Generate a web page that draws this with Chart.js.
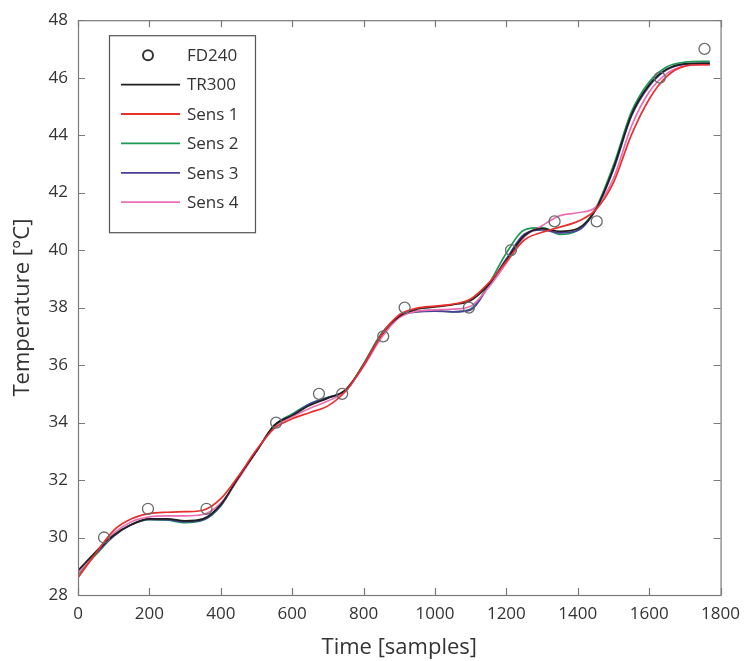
<!DOCTYPE html>
<html>
<head>
<meta charset="utf-8">
<script src="https://cdn.jsdelivr.net/npm/chart.js@4/dist/chart.umd.min.js"></script>
<style>
html,body{margin:0;padding:0;background:#fff;}
#wrap{width:749px;height:661px;position:relative;}
</style>
</head>
<body>
<div id="wrap"><canvas id="c" width="749" height="661"></canvas></div>
<script>
// ---- data ----
const fdX = [73, 196, 360, 555, 675, 740, 855, 915, 1095, 1213, 1335, 1453, 1630, 1755];
const fdY = [30, 31, 31, 34, 35, 35, 37, 38, 38, 40, 41, 41, 46, 47];

const sampleX = [0,50,100,150,200,250,300,350,400,450,500,550,600,650,700,750,800,850,900,950,1000,1050,1100,1150,1200,1250,1300,1350,1400,1450,1500,1550,1600,1650,1700,1750,1770];

const tr300 = [28.85,29.5,30.08,30.45,30.65,30.65,30.58,30.65,31.15,32.1,33.0,33.9,34.25,34.6,34.85,35.15,36.0,37.05,37.7,37.95,38.02,38.1,38.25,38.8,39.65,40.5,40.75,40.65,40.75,41.4,42.85,44.7,45.75,46.3,46.48,46.5,46.5];
const sens1 = [28.6,29.45,30.25,30.65,30.83,30.88,30.9,30.95,31.35,32.15,33.05,33.8,34.13,34.35,34.58,35.1,36.0,37.05,37.75,37.98,38.05,38.12,38.3,38.85,39.6,40.35,40.62,40.8,41.0,41.4,42.35,44.0,45.25,46.05,46.4,46.45,46.45];
const sens2 = [28.7,29.4,30.05,30.45,30.62,30.6,30.52,30.6,31.1,32.1,33.0,33.9,34.3,34.65,34.88,35.1,36.05,37.1,37.7,37.88,37.9,37.85,37.95,38.8,39.9,40.7,40.78,40.55,40.7,41.45,42.95,44.8,45.85,46.38,46.54,46.57,46.57];
const sens3 = [28.85,29.45,30.05,30.45,30.63,30.62,30.55,30.62,31.12,32.1,33.0,33.9,34.25,34.65,34.87,35.1,36.0,37.05,37.7,37.85,37.88,37.85,37.92,38.75,39.7,40.55,40.7,40.6,40.68,41.4,42.8,44.65,45.7,46.28,46.47,46.5,46.5];
const sens4 = [28.75,29.5,30.15,30.55,30.72,30.75,30.75,30.8,31.2,32.05,33.0,33.85,34.2,34.5,34.75,35.1,35.95,36.95,37.65,37.88,37.92,37.95,38.05,38.7,39.55,40.45,40.85,41.2,41.3,41.5,42.5,44.3,45.5,46.15,46.4,46.45,46.45];

const seriesNames = ["FD240","TR300","Sens 1","Sens 2","Sens 3","Sens 4"];
const xTicks = [0,200,400,600,800,1000,1200,1400,1600,1800];
const yTicks = [28,30,32,34,36,38,40,42,44,46,48];

// ---- build ----
const FONT = "'Open Sans', 'DejaVu Sans', sans-serif";
const TXT = '#333333';
const AX = '#7a7a7a';

function pts(xs, ys){ return xs.map((x,i)=>({x:x,y:ys[i]})); }
function lineDs(label, ys, color, order){
  return {type:'line', label:label, data:pts(sampleX, ys), borderColor:color, backgroundColor:color,
    borderWidth:1.7, pointRadius:0, cubicInterpolationMode:'monotone', fill:false, order:order};
}

const datasets = [
  {type:'scatter', label:seriesNames[0], data:pts(fdX, fdY), showLine:false, pointStyle:'circle',
   pointRadius:5.5, pointBorderWidth:1.3, pointBorderColor:'#6a6a6a', pointBackgroundColor:'rgba(0,0,0,0)', order:0},
  lineDs(seriesNames[2], sens1, '#e8302e', 1),
  lineDs(seriesNames[1], tr300, '#1f1f1f', 2),
  lineDs(seriesNames[5], sens4, '#ec6fb3', 3),
  lineDs(seriesNames[4], sens3, '#4a3e9c', 4),
  lineDs(seriesNames[3], sens2, '#1c9a55', 5)
];

const legendColors = {"TR300":'#1f1f1f',"Sens 1":'#e8302e',"Sens 2":'#1c9a55',"Sens 3":'#4a3e9c',"Sens 4":'#ec6fb3'};

const boxPlugin = {
  id:'boxTicks',
  afterDraw(chart){
    const ctx = chart.ctx, a = chart.chartArea;
    const xs = chart.scales.x, ys = chart.scales.y;
    ctx.save();
    ctx.strokeStyle = AX; ctx.lineWidth = 1.2;
    ctx.strokeRect(a.left+0.5, a.top+0.5, a.right-a.left, a.bottom-a.top);
    const tl = 7;
    ctx.beginPath();
    xTicks.forEach(v=>{
      const p = Math.round(xs.getPixelForValue(v))+0.5;
      ctx.moveTo(p, a.bottom); ctx.lineTo(p, a.bottom-tl);
      ctx.moveTo(p, a.top); ctx.lineTo(p, a.top+tl);
    });
    yTicks.forEach(v=>{
      const p = Math.round(ys.getPixelForValue(v))+0.5;
      ctx.moveTo(a.left, p); ctx.lineTo(a.left+tl, p);
      ctx.moveTo(a.right, p); ctx.lineTo(a.right-tl, p);
    });
    ctx.stroke();

    // legend
    const lx = a.left + 31, ly = a.top + 15, lw = 146, lh = 197;
    ctx.fillStyle = '#fff';
    ctx.fillRect(lx, ly, lw, lh);
    ctx.strokeStyle = '#555'; ctx.lineWidth = 1.2;
    ctx.strokeRect(lx+0.5, ly+0.5, lw, lh);
    ctx.font = "17px " + FONT;
    ctx.textBaseline = 'middle';
    ctx.textAlign = 'left';
    seriesNames.forEach((name, i)=>{
      const cy = ly + 20 + i*29.4;
      if (i === 0){
        ctx.beginPath();
        ctx.strokeStyle = '#333'; ctx.lineWidth = 2;
        ctx.arc(lx + 39, cy, 5, 0, Math.PI*2);
        ctx.stroke();
      } else {
        ctx.beginPath();
        ctx.strokeStyle = legendColors[name]; ctx.lineWidth = 1.8;
        ctx.moveTo(lx + 12, cy); ctx.lineTo(lx + 71, cy);
        ctx.stroke();
      }
      ctx.fillStyle = TXT;
      ctx.fillText(name, lx + 78, cy + 1);
    });
    ctx.restore();
  }
};

new Chart(document.getElementById('c'), {
  type:'line',
  data:{datasets:datasets},
  options:{
    responsive:false, animation:false,
    layout:{padding:{top:18, right:27, left:0, bottom:0}},
    plugins:{legend:{display:false}, tooltip:{enabled:false}},
    scales:{
      x:{type:'linear', min:0, max:1800,
        afterBuildTicks(s){ s.ticks = xTicks.map(v=>({value:v})); },
        afterFit(s){ s.height = 66; },
        grid:{display:false, drawTicks:false}, border:{display:false},
        ticks:{color:TXT, font:{size:17, family:FONT}, padding:9, maxRotation:0, autoSkip:false,
          callback:(v)=>String(v)},
        title:{display:true, text:'Time [samples]', color:TXT, font:{size:22, family:FONT}, padding:{top:2,bottom:0}}
      },
      y:{type:'linear', min:28, max:48,
        afterBuildTicks(s){ s.ticks = yTicks.map(v=>({value:v})); },
        afterFit(s){ s.width = 78; },
        grid:{display:false, drawTicks:false}, border:{display:false},
        ticks:{color:TXT, font:{size:17, family:FONT}, padding:10, autoSkip:false,
          callback:(v)=>String(v)},
        title:{display:true, text:'Temperature [°C]', color:TXT, font:{size:22, family:FONT}, padding:{top:10,bottom:0}}
      }
    }
  },
  plugins:[boxPlugin]
});
</script>
</body>
</html>
